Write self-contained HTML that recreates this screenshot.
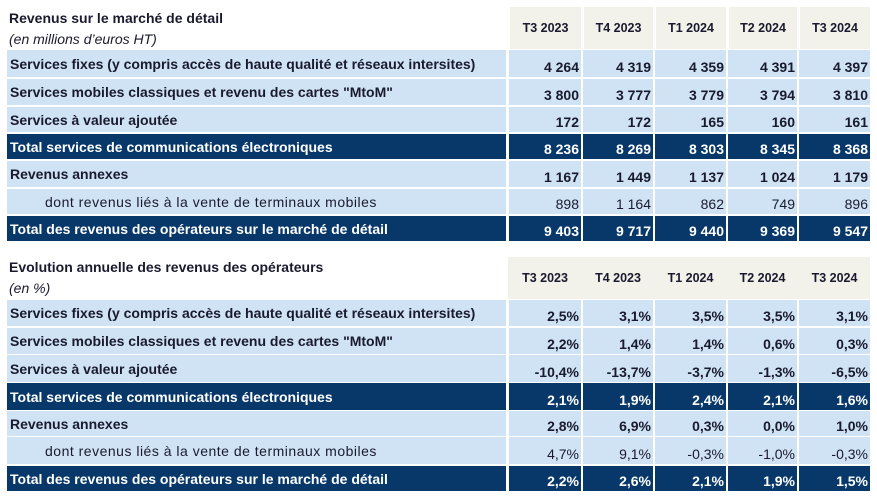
<!DOCTYPE html><html><head><meta charset="utf-8"><style>
body{margin:0;width:877px;height:502px;background:#fff;position:relative;overflow:hidden;font-family:"Liberation Sans",Arial,sans-serif;color:#1a1a2e}
div{position:absolute;box-sizing:border-box;white-space:nowrap}
.l{background:#cfe3f5;font-weight:bold;font-size:14px;padding-left:3px;display:flex;align-items:center}
.n{background:#cfe3f5;font-weight:bold;font-size:14px;text-align:right;padding-right:2px;display:flex;align-items:flex-end;justify-content:flex-end;padding-bottom:2px}
div.d{background:#08386a;color:#fff}
.h{background:#f2f1ea;font-weight:bold;font-size:12.5px;display:flex;align-items:center;justify-content:center}
.t{font-size:14px;font-weight:bold;left:9px}
.i{font-size:14px;font-style:italic;left:9px}
.nb{font-weight:normal!important}
.ind{padding-left:38px;letter-spacing:0.5px}
</style></head><body>
<div class="t" style="top:10px">Revenus sur le marché de détail</div>
<div class="i" style="top:31px">(en millions d’euros HT)</div>
<div class="t" style="top:259px">Evolution annuelle des revenus des opérateurs</div>
<div class="i" style="top:280px">(en %)</div>
<div id="c"></div>
<script>
var cols=[[509,72],[583,70],[655,71],[728,69],[799,71]];
var labels=["Services fixes (y compris accès de haute qualité et réseaux intersites)","Services mobiles classiques et revenu des cartes \"MtoM\"","Services à valeur ajoutée","Total services de communications électroniques","Revenus annexes","dont revenus liés à la vente de terminaux mobiles","Total des revenus des opérateurs sur le marché de détail"];
var hd=["T3 2023","T4 2023","T1 2024","T2 2024","T3 2024"];
var v1=[["4 264","4 319","4 359","4 391","4 397"],["3 800","3 777","3 779","3 794","3 810"],["172","172","165","160","161"],["8 236","8 269","8 303","8 345","8 368"],["1 167","1 449","1 137","1 024","1 179"],["898","1 164","862","749","896"],["9 403","9 717","9 440","9 369","9 547"]];
var v2=[["2,5%","3,1%","3,5%","3,5%","3,1%"],["2,2%","1,4%","1,4%","0,6%","0,3%"],["-10,4%","-13,7%","-3,7%","-1,3%","-6,5%"],["2,1%","1,9%","2,4%","2,1%","1,6%"],["2,8%","6,9%","0,3%","0,0%","1,0%"],["4,7%","9,1%","-0,3%","-1,0%","-0,3%"],["2,2%","2,6%","2,1%","1,9%","1,5%"]];
var r1=[[50,27],[79,26],[107,25],[134,25],[161,26],[189,25],[216,25]];
var r2=[[300,26],[328,26],[355,27],[383,27],[411,25],[437,27],[466,25]];
var h="";
function tbl(hy,hh,rows,vals,gap){
 if(gap){cols.forEach(function(c,j){h+='<div class="h" style="left:'+(c[0]+1)+'px;top:'+hy+'px;width:'+(c[1]-1)+'px;height:'+hh+'px">'+hd[j]+'</div>';});}
 else{h+='<div style="background:#f2f1ea;left:508px;top:'+hy+'px;width:362px;height:'+hh+'px"></div>';cols.forEach(function(c,j){h+='<div class="h" style="background:none;left:'+c[0]+'px;top:'+hy+'px;width:'+c[1]+'px;height:'+hh+'px">'+hd[j]+'</div>';});}
 rows.forEach(function(r,i){var dk=(i==3||i==6)?' d':'';var nb=(i==5)?' nb':'';
  h+='<div class="l'+dk+nb+(i==5?' ind':'')+'" style="left:7px;top:'+r[0]+'px;width:499px;height:'+r[1]+'px">'+labels[i]+'</div>';
  cols.forEach(function(c,j){h+='<div class="n'+dk+nb+'" style="left:'+c[0]+'px;top:'+r[0]+'px;width:'+c[1]+'px;height:'+r[1]+'px">'+vals[i][j]+'</div>';});
 });
}
tbl(7,42,r1,v1,true);
tbl(257,42,r2,v2,false);
document.getElementById("c").outerHTML=h;
</script>
</body></html>
